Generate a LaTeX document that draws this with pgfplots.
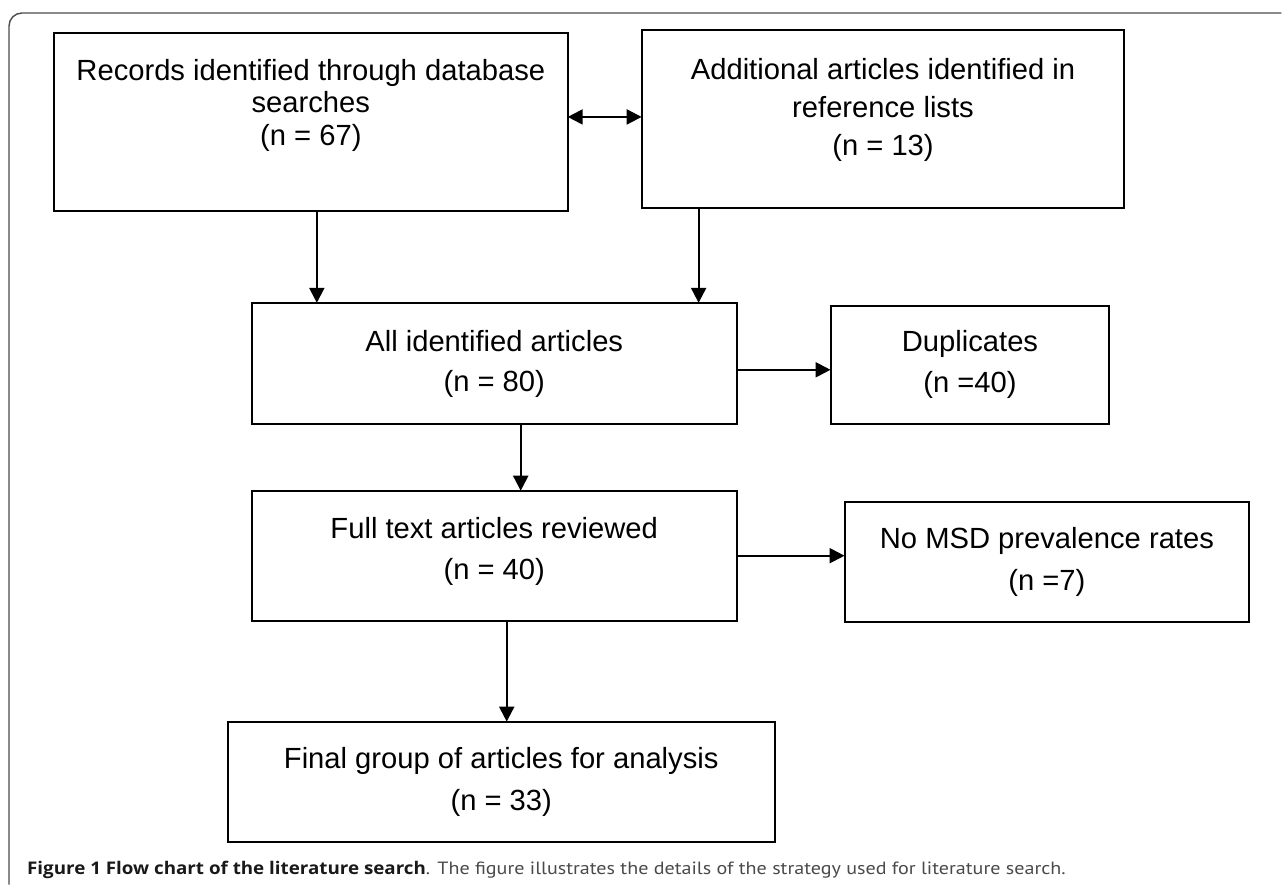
\documentclass[border=0pt]{standalone}
\usepackage{fontspec}
\setmainfont{Liberation Sans}
\newfontfamily\capfont{PT Sans}
\newfontfamily\capbold{Open Sans}
\usepackage{graphicx}
\usepackage{pgfplots}
\pgfplotsset{compat=1.18}
\usetikzlibrary{arrows.meta}
\definecolor{capgray}{HTML}{4A4A4A}
\newcommand\bx{\fontsize{29.3}{35}\selectfont}
\begin{document}
\begin{tikzpicture}
\begin{axis}[
  width=1282bp, height=885bp, scale only axis,
  xmin=0, xmax=1282, ymin=0, ymax=885, y dir=reverse,
  axis lines=none, clip=false, no markers,
  cycle list={{black, solid}},
  every axis plot post/.append style={black, solid, line width=2.1bp, line join=miter},
  arr/.style={line cap=butt, -{Triangle[length=15bp,width=15bp]}},
]
% bounding
\addplot[draw=none] coordinates {(0,0) (1282,885)};
% outer frame
\draw[black!70, line width=1.4bp, rounded corners=13bp] (axis cs:9,885) -- (axis cs:9,13) -- (axis cs:1282,13);
% boxes
\addplot coordinates {(54,33) (568,33) (568,211) (54,211)} -- cycle;
\addplot coordinates {(642,30) (1125,30) (1125,208) (642,208)} -- cycle;
\addplot coordinates {(252,303) (737,303) (737,424) (252,424)} -- cycle;
\addplot coordinates {(831,306) (1110,306) (1110,424) (831,424)} -- cycle;
\addplot coordinates {(252,491) (737,491) (737,621) (252,621)} -- cycle;
\addplot coordinates {(845,502) (1250,502) (1250,622) (845,622)} -- cycle;
\addplot coordinates {(228,722) (775,722) (775,842) (228,842)} -- cycle;
% arrows
\addplot[line cap=butt, {Triangle[length=15bp,width=15bp]}-{Triangle[length=15bp,width=15bp]}] coordinates {(568,117) (642,117)};
\addplot[arr] coordinates {(317,211) (317,303)};
\addplot[arr] coordinates {(699,208) (699,303)};
\addplot[arr] coordinates {(737,370) (831,370)};
\addplot[arr] coordinates {(521,424) (521,491)};
\addplot[arr] coordinates {(737,556) (845,556)};
\addplot[arr] coordinates {(507,621) (507,722)};
% texts
\node[anchor=base] at (axis cs:311,81) {\bx Records identified through database};
\node[anchor=base] at (axis cs:311,113) {\bx searches};
\node[anchor=base] at (axis cs:311,146) {\bx (n = 67)};
\node[anchor=base] at (axis cs:883.5,80) {\bx Additional articles identified in};
\node[anchor=base] at (axis cs:883.5,118) {\bx reference lists};
\node[anchor=base] at (axis cs:883.5,156) {\bx (n = 13)};
\node[anchor=base] at (axis cs:494.5,352) {\bx All identified articles};
\node[anchor=base] at (axis cs:494.5,392) {\bx (n = 80)};
\node[anchor=base] at (axis cs:970.5,352) {\bx Duplicates};
\node[anchor=base] at (axis cs:970.5,393) {\bx (n =40)};
\node[anchor=base] at (axis cs:494.5,539) {\bx Full text articles reviewed};
\node[anchor=base] at (axis cs:494.5,580) {\bx (n = 40)};
\node[anchor=base] at (axis cs:1047.5,549) {\bx No MSD prevalence rates};
\node[anchor=base] at (axis cs:1047.5,591) {\bx (n =7)};
\node[anchor=base] at (axis cs:501.5,769) {\bx Final group of articles for analysis};
\node[anchor=base] at (axis cs:501.5,811) {\bx (n = 33)};
% caption
\node[anchor=base west, inner sep=0pt] at (axis cs:27,875) {\resizebox{399bp}{\height}{\capbold\fontsize{17.5}{20}\selectfont\bfseries\color{black!90}Figure 1 Flow chart of the literature search}\resizebox{640bp}{\height}{\capfont\fontsize{17.8}{20}\selectfont\color{capgray}. The figure illustrates the details of the strategy used for literature search.}};
\end{axis}
\end{tikzpicture}
\end{document}
